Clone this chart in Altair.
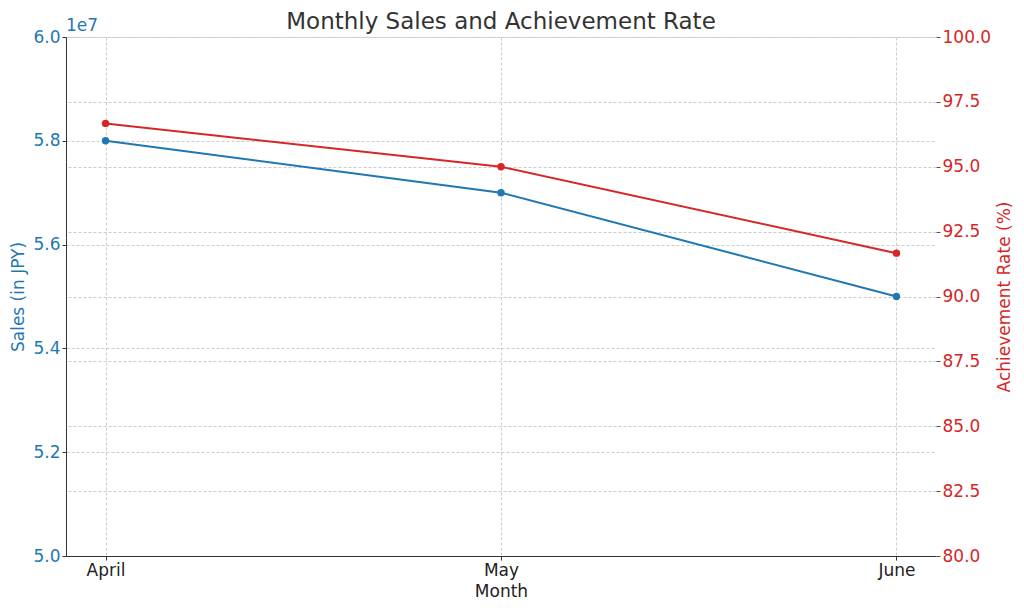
import altair as alt
import pandas as pd

months = ["April", "May", "June"]
sales = [58000000, 57000000, 55000000]
rate = [96.67, 95.0, 91.67]
sales_ticks = [5.0e7, 5.2e7, 5.4e7, 5.6e7, 5.8e7, 6.0e7]
rate_ticks = [80.0, 82.5, 85.0, 87.5, 90.0, 92.5, 95.0, 97.5, 100.0]
chart_title = "Monthly Sales and Achievement Rate"

df = pd.DataFrame({"Month": months, "Sales": sales, "Rate": rate})

BLUE = "#1f77b4"
RED = "#d62728"
FONT = "DejaVu Sans"
FS = 17
GRID = dict(grid=True, gridDash=[3, 2], gridColor="#cccccc", gridWidth=1)
W, H = 870, 519

x = alt.X(
    "Month:N", sort=months,
    scale=alt.Scale(type="point", padding=0.1),
    axis=alt.Axis(title="Month", labelAngle=0, domainColor="#333333", tickColor="#333333",
                  labelColor="#222222", titleColor="#222222", labelFontSize=FS, titleFontSize=FS,
                  titleFontWeight="normal", labelPadding=2, titlePadding=5, tickSize=4,
                  labelFont=FONT, titleFont=FONT, **GRID),
)

base = alt.Chart(df)

sales_line = base.mark_line(color=BLUE, strokeWidth=2, point=alt.OverlayMarkDef(color=BLUE, size=55, filled=True, opacity=1)).encode(
    x=x,
    y=alt.Y("Sales:Q", scale=alt.Scale(domain=[5e7, 6e7], nice=False, zero=False),
            axis=alt.Axis(title="Sales (in JPY)", orient="left", values=sales_ticks,
                          labelExpr="format(datum.value / 10000000, '.1f')",
                          labelColor=BLUE, titleColor=BLUE, labelFontSize=FS, titleFontSize=FS,
                          titleFontWeight="normal", domainColor="#333333", tickColor="#333333",
                          tickSize=4, labelPadding=2, titlePadding=5, labelFont=FONT, titleFont=FONT,
                          **GRID)),
)

rate_line = base.mark_line(color=RED, strokeWidth=2, point=alt.OverlayMarkDef(color=RED, size=55, filled=True, opacity=1)).encode(
    x=x,
    y=alt.Y("Rate:Q", scale=alt.Scale(domain=[80, 100], nice=False, zero=False),
            axis=alt.Axis(title="Achievement Rate (%)", orient="right", values=rate_ticks, format=".1f",
                          labelColor=RED, titleColor=RED, labelFontSize=FS, titleFontSize=FS,
                          titleFontWeight="normal", domain=False, tickColor="#555555",
                          tickSize=4, labelPadding=2, titlePadding=6, titleAngle=270, titleBaseline="top",
                          labelFont=FONT, titleFont=FONT, **GRID)),
)

exp = alt.Chart(pd.DataFrame({"t": ["1e7"]})).mark_text(
    color=BLUE, fontSize=FS, font=FONT, align="left", baseline="bottom"
).encode(text="t:N", x=alt.value(0), y=alt.value(-2))

title = alt.Chart(pd.DataFrame({"t": [chart_title]})).mark_text(
    color="#333333", fontSize=23, font=FONT, align="center", baseline="middle"
).encode(text="t:N", x=alt.value(W / 2), y=alt.value(-15))

chart = alt.layer(sales_line, rate_line, exp, title).resolve_scale(y="independent").properties(
    width=W, height=H,
    padding={"left": 58, "top": 29, "right": 80, "bottom": 46},
    autosize=alt.AutoSizeParams(type="none"),
).configure(font=FONT).configure_view(stroke="transparent")

chart.save("out.html", embed_options={"renderer": "svg", "actions": False})
